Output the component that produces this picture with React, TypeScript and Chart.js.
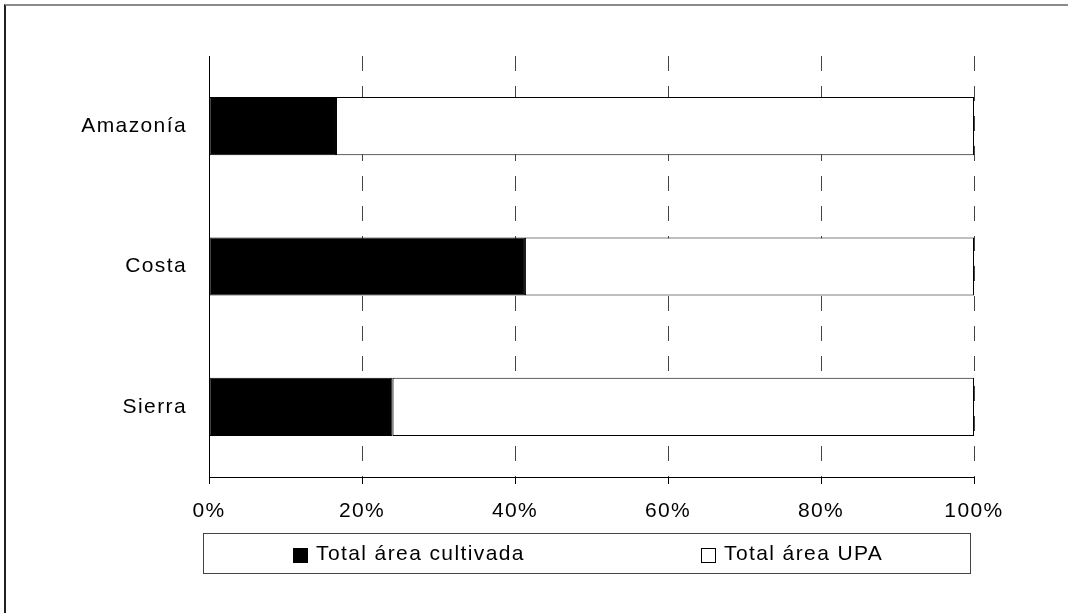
import React, { useEffect, useRef } from "react";
import { Chart, registerables } from "chart.js";

Chart.register(...registerables);

const categories = ["Amazonía", "Costa", "Sierra"];
const cultivada = [16.6, 41.3, 24.0];
const upa = [83.4, 58.7, 76.0];
const xTicks = [0, 20, 40, 60, 80, 100];
const seriesLabels = ["Total área cultivada", "Total área UPA"];

const FONT = '"Liberation Sans", Arial, sans-serif';
const SPACING = "1.4px";
const FS = 21;
const W = 1068;
const H = 613;

export default function App() {
  const ref = useRef<HTMLCanvasElement>(null);

  useEffect(() => {
    const canvas = ref.current!;
    const spacingPlugin = {
      id: "spacing",
      beforeLayout(chart: any) {
        chart.ctx.letterSpacing = SPACING;
      },
      beforeDraw(chart: any) {
        chart.ctx.letterSpacing = SPACING;
      },
    };
    const legendBox = {
      id: "legendBox",
      afterDraw(chart: any) {
        const { ctx, chartArea } = chart;
        const left = Math.round(chartArea.left - 6);
        const right = Math.round(chartArea.right - 4);
        const top = Math.round(chartArea.bottom + 56);
        const h = 40;
        const w = right - left;
        ctx.save();
        ctx.letterSpacing = SPACING;
        ctx.strokeStyle = "#444";
        ctx.lineWidth = 1;
        ctx.strokeRect(left + 0.5, top + 0.5, w, h);
        ctx.font = `${FS}px ${FONT}`;
        ctx.textBaseline = "middle";
        ctx.textAlign = "left";
        const sq = 15;
        const gap = 8;
        seriesLabels.forEach((label, i) => {
          const ds = chart.data.datasets[i];
          const tw = ctx.measureText(label).width;
          const iw = sq + gap + tw;
          const cx = left + (w * (2 * i + 1)) / 4 + 14;
          const x0 = Math.round(cx - iw / 2);
          const cy = top + h / 2 + 1;
          const sy = Math.round(cy - sq / 2 + 1);
          ctx.fillStyle = ds.backgroundColor;
          ctx.fillRect(x0, sy, sq, sq);
          ctx.strokeStyle = "#000";
          ctx.strokeRect(x0 + 0.5, sy + 0.5, sq - 1, sq - 1);
          ctx.fillStyle = "#000";
          ctx.fillText(label, x0 + sq + gap, cy);
        });
        ctx.restore();
      },
    };

    const chart = new Chart(canvas, {
      type: "bar",
      data: {
        labels: categories,
        datasets: [
          {
            label: seriesLabels[0],
            data: cultivada,
            backgroundColor: "#000000",
            borderColor: "#000000",
            borderWidth: 1,
            borderSkipped: false,
            barPercentage: 0.414,
            categoryPercentage: 1,
          },
          {
            label: seriesLabels[1],
            data: upa,
            backgroundColor: "#ffffff",
            borderColor: "#000000",
            borderWidth: 1,
            borderSkipped: false,
            barPercentage: 0.414,
            categoryPercentage: 1,
          },
        ],
      },
      options: {
        indexAxis: "y",
        responsive: false,
        animation: false,
        layout: { padding: { top: 56, right: 94, bottom: 66, left: 0 } },
        plugins: {
          legend: { display: false },
          tooltip: { enabled: false },
        },
        scales: {
          x: {
            stacked: true,
            min: 0,
            max: 100,
            afterBuildTicks: (s: any) => {
              s.ticks = xTicks.map((v) => ({ value: v }));
            },
            afterFit: (s: any) => {
              s.height = 70;
            },
            ticks: {
              callback: (v: any) => `${v}%`,
              padding: 15,
              color: "#000",
              font: { family: FONT, size: FS },
              maxRotation: 0,
            },
            grid: {
              color: "#444",
              lineWidth: 1,
              drawTicks: true,
              tickLength: 7,
              tickColor: "#000",
            },
            border: { display: true, color: "#000", width: 1, dash: [15, 15] },
          },
          y: {
            stacked: true,
            afterFit: (s: any) => {
              s.width = 209;
            },
            grid: { display: false, drawTicks: false },
            border: { display: true, color: "#000", width: 1 },
            ticks: {
              padding: 22,
              color: "#000",
              font: { family: FONT, size: FS },
            },
          },
        },
      },
      plugins: [spacingPlugin, legendBox],
    } as any);

    return () => chart.destroy();
  }, []);

  return (
    <div
      style={{
        position: "fixed",
        left: 0,
        top: 0,
        width: W,
        height: H,
        background: "#fff",
      }}
    >
      <div
        style={{
          position: "absolute",
          left: 4,
          top: 4,
          right: 0,
          bottom: 0,
          borderTop: "2px solid #8a8a8a",
          borderLeft: "2px solid #222",
        }}
      />
      <canvas
        ref={ref}
        width={W}
        height={H}
        style={{ position: "absolute", left: 0, top: 0, width: W, height: H }}
      />
    </div>
  );
}
